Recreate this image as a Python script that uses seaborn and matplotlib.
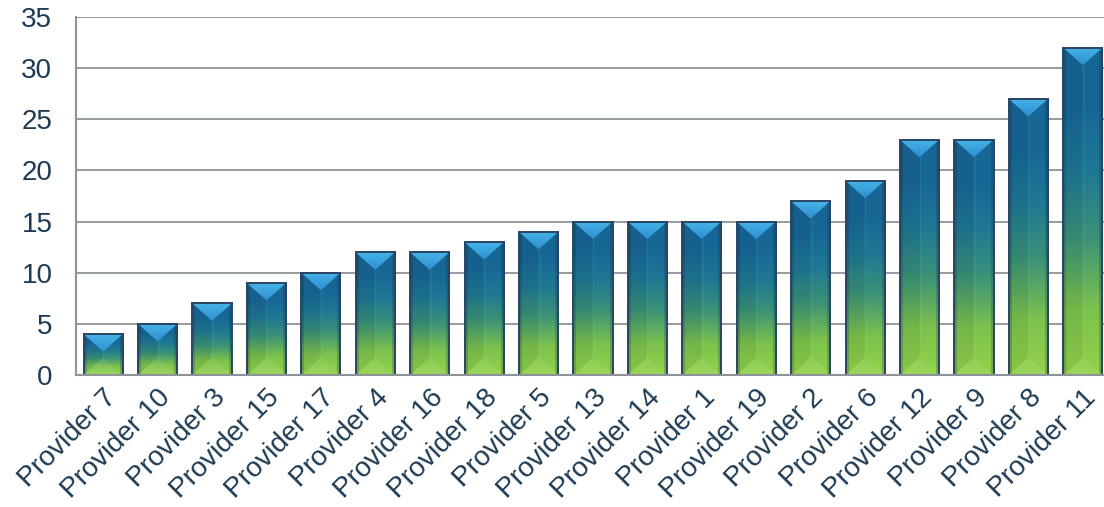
import numpy as np
import matplotlib
matplotlib.use("Agg")
import matplotlib.pyplot as plt
from matplotlib.colors import LinearSegmentedColormap
from matplotlib.patches import Polygon
import seaborn as sns

providers = ["Provider 7", "Provider 10", "Provider 3", "Provider 15", "Provider 17",
             "Provider 4", "Provider 16", "Provider 18", "Provider 5", "Provider 13",
             "Provider 14", "Provider 1", "Provider 19", "Provider 2", "Provider 6",
             "Provider 12", "Provider 9", "Provider 8", "Provider 11"]
values = [4, 5, 7, 9, 10, 12, 12, 13, 14, 15, 15, 15, 15, 17, 19, 23, 23, 27, 32]
y_ticks = [0, 5, 10, 15, 20, 25, 30, 35]

sns.set_theme(style="white")
plt.rcParams["font.family"] = ["Liberation Sans", "DejaVu Sans"]

W, H = 1104, 507
fig = plt.figure(figsize=(W / 100, H / 100), dpi=100)
ax = fig.add_axes([76 / W, (H - 375) / H, (1110 - 76) / W, (375 - 17) / H])

sns.barplot(x=providers, y=values, ax=ax, width=0.72, color="#1a6a9a",
            edgecolor="#2a4462", linewidth=1.4, zorder=3)

ax.set_ylim(0, 35)
ax.set_yticks(y_ticks)
ax.set_xlim(-0.5, len(providers) - 0.5)
ax.set_xlabel("")
ax.set_ylabel("")

grid_c = "#8e9399"
ax.yaxis.grid(True, color=grid_c, linewidth=1.3, zorder=0)
ax.xaxis.grid(False)
for s in ["top", "right"]:
    ax.spines[s].set_visible(False)
for s in ["left", "bottom"]:
    ax.spines[s].set_color(grid_c)
    ax.spines[s].set_linewidth(1.5)
    ax.spines[s].set_zorder(4)

txt_c = "#1d3a52"
ax.tick_params(axis="y", length=0, pad=17, labelsize=20, labelcolor=txt_c)
ax.tick_params(axis="x", length=0, pad=7, labelsize=20, labelcolor=txt_c)
for lab in ax.get_xticklabels():
    lab.set_rotation(45)
    lab.set_ha("right")
    lab.set_rotation_mode("anchor")

# vertical gradient for the bar body: green at the base, teal, then blue
body = LinearSegmentedColormap.from_list(
    "body", [(0.0, "#93d24a"), (0.2, "#7cc24d"), (0.42, "#3a9278"),
             (0.62, "#1f7894"), (0.82, "#176797"), (1.0, "#186896")])
grad = np.linspace(0, 1, 256).reshape(-1, 1)

fig.canvas.draw()
px_per_y = ax.transData.transform((0, 1))[1] - ax.transData.transform((0, 0))[1]
px_per_x = ax.transData.transform((1, 0))[0] - ax.transData.transform((0, 0))[0]

for patch in ax.patches:
    x0, w, h = patch.get_x(), patch.get_width(), patch.get_height()
    x1, xc = x0 + w, x0 + w / 2
    patch.set_facecolor("none")
    im = ax.imshow(grad, cmap=body, origin="lower", aspect="auto",
                   extent=(x0, x1, 0, h), zorder=2, interpolation="bicubic")
    im.set_clip_path(patch)

    # bevel depth: about 0.45 of the bar width, in data units of y
    d = min(0.45 * w * px_per_x / px_per_y, h / 2)
    strip = 3.0 / px_per_x

    # darker left half and thin side strips
    ax.add_patch(Polygon([(x0, 0), (xc, d), (xc, h - d), (x0, h)], closed=True,
                         facecolor="black", alpha=0.06, lw=0, zorder=2.5))
    for sx in (x0, x1 - strip):
        ax.add_patch(Polygon([(sx, 0), (sx + strip, 0), (sx + strip, h), (sx, h)],
                             closed=True, facecolor="#0d2b45", alpha=0.22, lw=0,
                             zorder=2.6))
    # faint center ridge
    ax.plot([xc, xc], [d, h - d], color="white", alpha=0.07, lw=1.0, zorder=2.6)

    # lighter top facet
    top = Polygon([(x0, h), (x1, h), (xc, h - d)], closed=True,
                  facecolor="none", lw=0, zorder=2.7)
    ax.add_patch(top)
    tcm = LinearSegmentedColormap.from_list("top", ["#2e8fcf", "#47b3ea"])
    tim = ax.imshow(grad, cmap=tcm, origin="lower", aspect="auto",
                    extent=(x0, x1, h - d, h), zorder=2.7, interpolation="bicubic")
    tim.set_clip_path(top)
    # lighter bottom facet
    ax.add_patch(Polygon([(x0, 0), (x1, 0), (xc, d)], closed=True,
                         facecolor="white", alpha=0.08, lw=0, zorder=2.7))

ax.set_xlim(-0.5, len(providers) - 0.5)
ax.set_ylim(0, 35)

fig.savefig("out.png", dpi=100)
